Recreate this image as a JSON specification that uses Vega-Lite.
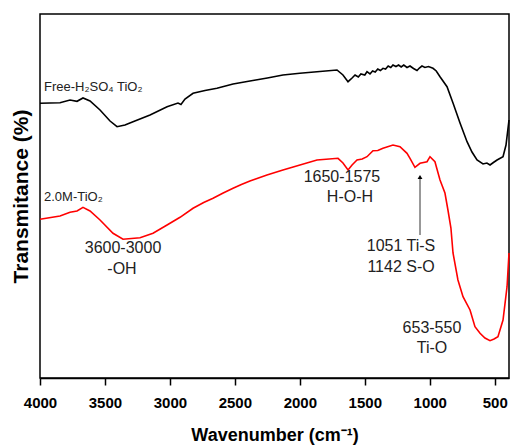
{
  "$schema": "https://vega.github.io/schema/vega-lite/v6.json",
  "width": 469,
  "height": 364,
  "autosize": {"type": "none"},
  "padding": {"left": 40, "top": 14, "right": 2, "bottom": 68},
  "background": "white",
  "config": {
    "view": {"stroke": "black", "strokeWidth": 1.5},
    "font": "Liberation Sans"
  },
  "datasets": {
    "spectra": [
      {"series": "free", "w": 4000, "t": 274.7},
      {"series": "free", "w": 3846, "t": 275.3},
      {"series": "free", "w": 3769, "t": 278},
      {"series": "free", "w": 3715, "t": 276.7},
      {"series": "free", "w": 3669, "t": 280},
      {"series": "free", "w": 3615, "t": 277},
      {"series": "free", "w": 3538, "t": 268},
      {"series": "free", "w": 3461, "t": 257},
      {"series": "free", "w": 3407, "t": 251.3},
      {"series": "free", "w": 3346, "t": 253},
      {"series": "free", "w": 3284, "t": 256.3},
      {"series": "free", "w": 3153, "t": 263},
      {"series": "free", "w": 3022, "t": 271.3},
      {"series": "free", "w": 2938, "t": 275},
      {"series": "free", "w": 2915, "t": 273.5},
      {"series": "free", "w": 2884, "t": 279},
      {"series": "free", "w": 2822, "t": 284.7},
      {"series": "free", "w": 2730, "t": 287.5},
      {"series": "free", "w": 2638, "t": 289.7},
      {"series": "free", "w": 2514, "t": 294},
      {"series": "free", "w": 2384, "t": 297},
      {"series": "free", "w": 2250, "t": 300},
      {"series": "free", "w": 2130, "t": 303},
      {"series": "free", "w": 2000, "t": 304.8},
      {"series": "free", "w": 1868, "t": 306.3},
      {"series": "free", "w": 1714, "t": 308},
      {"series": "free", "w": 1668, "t": 303},
      {"series": "free", "w": 1629, "t": 296.3},
      {"series": "free", "w": 1598, "t": 300},
      {"series": "free", "w": 1575, "t": 303},
      {"series": "free", "w": 1550, "t": 301},
      {"series": "free", "w": 1530, "t": 304},
      {"series": "free", "w": 1500, "t": 303},
      {"series": "free", "w": 1483, "t": 306.3},
      {"series": "free", "w": 1460, "t": 304},
      {"series": "free", "w": 1440, "t": 307},
      {"series": "free", "w": 1420, "t": 306},
      {"series": "free", "w": 1400, "t": 309},
      {"series": "free", "w": 1380, "t": 307.5},
      {"series": "free", "w": 1360, "t": 309.7},
      {"series": "free", "w": 1340, "t": 309},
      {"series": "free", "w": 1320, "t": 312},
      {"series": "free", "w": 1300, "t": 310.5},
      {"series": "free", "w": 1283, "t": 313},
      {"series": "free", "w": 1260, "t": 311.5},
      {"series": "free", "w": 1240, "t": 313},
      {"series": "free", "w": 1220, "t": 311},
      {"series": "free", "w": 1200, "t": 313},
      {"series": "free", "w": 1175, "t": 310.5},
      {"series": "free", "w": 1152, "t": 312},
      {"series": "free", "w": 1125, "t": 309.5},
      {"series": "free", "w": 1098, "t": 307.5},
      {"series": "free", "w": 1080, "t": 310},
      {"series": "free", "w": 1060, "t": 312},
      {"series": "free", "w": 1037, "t": 310.5},
      {"series": "free", "w": 1010, "t": 311.5},
      {"series": "free", "w": 975, "t": 309.7},
      {"series": "free", "w": 950, "t": 307},
      {"series": "free", "w": 921, "t": 301.3},
      {"series": "free", "w": 867, "t": 291.3},
      {"series": "free", "w": 821, "t": 275},
      {"series": "free", "w": 767, "t": 255},
      {"series": "free", "w": 713, "t": 236.3},
      {"series": "free", "w": 675, "t": 226},
      {"series": "free", "w": 636, "t": 218},
      {"series": "free", "w": 590, "t": 214},
      {"series": "free", "w": 560, "t": 215},
      {"series": "free", "w": 536, "t": 213},
      {"series": "free", "w": 510, "t": 215.5},
      {"series": "free", "w": 482, "t": 218},
      {"series": "free", "w": 436, "t": 221.3},
      {"series": "free", "w": 413, "t": 233},
      {"series": "free", "w": 390, "t": 258},
      {"series": "m20", "w": 4000, "t": 158.7},
      {"series": "m20", "w": 3846, "t": 162},
      {"series": "m20", "w": 3769, "t": 165.7},
      {"series": "m20", "w": 3715, "t": 167},
      {"series": "m20", "w": 3669, "t": 170.7},
      {"series": "m20", "w": 3615, "t": 167},
      {"series": "m20", "w": 3538, "t": 158},
      {"series": "m20", "w": 3438, "t": 144.7},
      {"series": "m20", "w": 3361, "t": 138.7},
      {"series": "m20", "w": 3230, "t": 140.3},
      {"series": "m20", "w": 3130, "t": 144.7},
      {"series": "m20", "w": 3022, "t": 153},
      {"series": "m20", "w": 2922, "t": 160.7},
      {"series": "m20", "w": 2822, "t": 169.7},
      {"series": "m20", "w": 2740, "t": 175.5},
      {"series": "m20", "w": 2668, "t": 179.7},
      {"series": "m20", "w": 2590, "t": 185},
      {"series": "m20", "w": 2514, "t": 189.7},
      {"series": "m20", "w": 2450, "t": 193.5},
      {"series": "m20", "w": 2384, "t": 197},
      {"series": "m20", "w": 2253, "t": 203},
      {"series": "m20", "w": 2130, "t": 208},
      {"series": "m20", "w": 1999, "t": 213},
      {"series": "m20", "w": 1868, "t": 218},
      {"series": "m20", "w": 1706, "t": 219.7},
      {"series": "m20", "w": 1668, "t": 215},
      {"series": "m20", "w": 1629, "t": 208},
      {"series": "m20", "w": 1598, "t": 213},
      {"series": "m20", "w": 1560, "t": 218},
      {"series": "m20", "w": 1520, "t": 219},
      {"series": "m20", "w": 1483, "t": 221.3},
      {"series": "m20", "w": 1437, "t": 227.3},
      {"series": "m20", "w": 1400, "t": 227.5},
      {"series": "m20", "w": 1360, "t": 229.7},
      {"series": "m20", "w": 1283, "t": 233},
      {"series": "m20", "w": 1229, "t": 231.3},
      {"series": "m20", "w": 1175, "t": 224.7},
      {"series": "m20", "w": 1152, "t": 219.7},
      {"series": "m20", "w": 1114, "t": 210.7},
      {"series": "m20", "w": 1075, "t": 214.7},
      {"series": "m20", "w": 1021, "t": 216.3},
      {"series": "m20", "w": 998, "t": 221.3},
      {"series": "m20", "w": 960, "t": 216.3},
      {"series": "m20", "w": 921, "t": 198},
      {"series": "m20", "w": 883, "t": 185},
      {"series": "m20", "w": 860, "t": 168},
      {"series": "m20", "w": 837, "t": 150},
      {"series": "m20", "w": 821, "t": 125},
      {"series": "m20", "w": 783, "t": 98},
      {"series": "m20", "w": 744, "t": 81.3},
      {"series": "m20", "w": 690, "t": 68},
      {"series": "m20", "w": 652, "t": 51.3},
      {"series": "m20", "w": 613, "t": 44.7},
      {"series": "m20", "w": 575, "t": 40},
      {"series": "m20", "w": 536, "t": 37.3},
      {"series": "m20", "w": 505, "t": 39},
      {"series": "m20", "w": 475, "t": 41.3},
      {"series": "m20", "w": 436, "t": 58},
      {"series": "m20", "w": 405, "t": 91.3},
      {"series": "m20", "w": 390, "t": 125}
    ],
    "smallLabels": [
      {"w": 3969, "t": 291, "label": "Free-H₂SO₄ TiO₂"},
      {"w": 3969, "t": 181, "label": "2.0M-TiO₂"}
    ],
    "bigLabels": [
      {"w": 3361, "t": 130, "label": "3600-3000"},
      {"w": 3369, "t": 109, "label": "-OH"},
      {"w": 1676, "t": 201, "label": "1650-1575"},
      {"w": 1614, "t": 181, "label": "H-O-H"},
      {"w": 1221, "t": 132, "label": "1051 Ti-S"},
      {"w": 1221, "t": 111, "label": "1142 S-O"},
      {"w": 983, "t": 50, "label": "653-550"},
      {"w": 983, "t": 30, "label": "Ti-O"}
    ],
    "arrow": [
      {"w": 1075, "t": 143, "t2": 201}
    ]
  },
  "layer": [
    {
      "data": {"name": "spectra"},
      "mark": {"type": "line", "strokeWidth": 1.6},
      "encoding": {
        "x": {
          "field": "w",
          "type": "quantitative",
          "scale": {"domain": [390, 4000], "reverse": true, "nice": false, "zero": false},
          "axis": {
            "title": "Wavenumber (cm⁻¹)",
            "values": [4000, 3750, 3500, 3250, 3000, 2750, 2500, 2250, 2000, 1750, 1500, 1250, 1000, 750, 500],
            "format": "d",
            "labelExpr": "datum.value % 500 === 0 ? datum.label : ''",
            "grid": false,
            "domainColor": "black",
            "domainWidth": 1.5,
            "tickColor": "black",
            "tickWidth": 1.5,
            "tickSize": {"condition": {"test": "datum.value % 500 === 0", "value": 7}, "value": 4},
            "labelFont": "Liberation Sans",
            "labelFontWeight": "bold",
            "labelFontSize": 15,
            "labelColor": "black",
            "labelPadding": 10,
            "labelOverlap": false,
            "labelFlush": false,
            "titleFont": "Liberation Sans",
            "titleFontWeight": "bold",
            "titleFontSize": 18,
            "titleColor": "black",
            "titlePadding": 16
          }
        },
        "y": {
          "field": "t",
          "type": "quantitative",
          "scale": {"domain": [0, 364], "nice": false, "zero": false},
          "axis": {
            "title": "Transmitance (%)",
            "labels": false,
            "ticks": false,
            "domain": false,
            "grid": false,
            "titleFont": "Liberation Sans",
            "titleFontWeight": "bold",
            "titleFontSize": 21,
            "titleColor": "black",
            "titlePadding": 9
          }
        },
        "color": {
          "field": "series",
          "type": "nominal",
          "scale": {"domain": ["free", "m20"], "range": ["black", "#ff0000"]},
          "legend": null
        },
        "order": {"field": "w", "type": "quantitative", "sort": "descending"}
      }
    },
    {
      "data": {"name": "smallLabels"},
      "mark": {"type": "text", "align": "left", "baseline": "middle", "fontSize": 13, "font": "Liberation Sans", "color": "#222222"},
      "encoding": {
        "x": {"field": "w", "type": "quantitative"},
        "y": {"field": "t", "type": "quantitative"},
        "text": {"field": "label"}
      }
    },
    {
      "data": {"name": "bigLabels"},
      "mark": {"type": "text", "align": "center", "baseline": "middle", "fontSize": 16, "font": "Liberation Sans", "color": "#222222"},
      "encoding": {
        "x": {"field": "w", "type": "quantitative"},
        "y": {"field": "t", "type": "quantitative"},
        "text": {"field": "label"}
      }
    },
    {
      "data": {"name": "arrow"},
      "mark": {"type": "rule", "color": "#333333", "strokeWidth": 1},
      "encoding": {
        "x": {"field": "w", "type": "quantitative"},
        "y": {"field": "t", "type": "quantitative"},
        "y2": {"field": "t2"}
      }
    },
    {
      "data": {"name": "arrow"},
      "mark": {"type": "point", "shape": "triangle-up", "filled": true, "color": "black", "size": 24, "opacity": 1},
      "encoding": {
        "x": {"field": "w", "type": "quantitative"},
        "y": {"field": "t2", "type": "quantitative"}
      }
    }
  ]
}
